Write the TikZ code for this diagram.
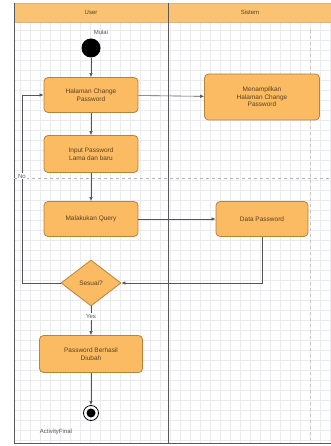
\documentclass[tikz,border=0pt]{standalone}
\usepackage{fontspec}
\setmainfont{Liberation Sans}
\usetikzlibrary{shapes.geometric,arrows.meta}
\definecolor{boxfill}{HTML}{FBBB63}
\definecolor{boxline}{HTML}{B9823A}
\definecolor{hdrfill}{HTML}{FBC272}
\definecolor{gridc}{HTML}{E9EBEE}
\definecolor{linec}{HTML}{555555}
\definecolor{txtc}{HTML}{5A4020}
\begin{document}
\begin{tikzpicture}[x=1pt,y=-1pt,
  act/.style={draw=boxline,fill=boxfill,rounded corners=4pt,line width=0.8pt,
    minimum width=#1,align=center,font=\fontsize{6.5}{7.5}\selectfont,text=txtc,inner sep=2pt},
  act/.default=94pt,
  dec/.style={draw=boxline,fill=boxfill,diamond,aspect=1.3,line width=0.8pt,
    minimum width=60pt,minimum height=46pt,inner sep=0pt,font=\fontsize{6.5}{7.5}\selectfont,text=txtc},
  flow/.style={draw=linec,line width=0.6pt,-{Latex[length=4pt,width=3.5pt]}},
  lbl/.style={font=\fontsize{6}{7}\selectfont,text=linec,inner sep=1pt}]
\useasboundingbox (0,0) rectangle (331,446);
\fill[white] (0,0) rectangle (331,446);
% grid
\foreach \gx in {20,30,...,330} {\draw[gridc,line width=0.3pt] (\gx,22) -- (\gx,443);}
\foreach \gy in {30,40,...,440} {\draw[gridc,line width=0.3pt] (14,\gy) -- (331,\gy);}
% header
\draw[boxline!60,fill=hdrfill] (14,3) rectangle (331,22);
\node[lbl,text=txtc] (huser) at (91,12.5) {User};
\node[lbl,text=txtc] (hsis) at (250,12.5) {Sistem};
% frame
\draw[gray!70!black,line width=0.6pt] (14,3) -- (14,443) -- (331,443);
\draw[gray!70!black,line width=0.6pt] (168,3) -- (168,443);
\draw[gray!60,dashed,line width=0.5pt] (14,178) -- (331,178);
\draw[gray!45,dashed,line width=0.4pt] (310,30) -- (310,440);
% nodes
\node[lbl] (mulai) at (101,32) {Mulai};
\node[circle,fill=black,minimum size=19pt,inner sep=0pt] (start) at (91,48) {};
\node[act,minimum height=35pt] (hal) at (91,95) {Halaman Change\\Password};
\node[act=115pt,minimum height=46pt] (tamp) at (262,97) {Menampilkan\\Halaman Change\\Password};
\node[act,minimum height=37pt] (inp) at (91,154) {Input Password\\Lama dan baru};
\node[act,minimum height=35pt] (query) at (91,219) {Malakukan Query};
\node[act=92pt,minimum height=35pt] (data) at (262,219) {Data Password};
\node[dec] (ses) at (91,283) {Sesuai?};
\node[act=103pt,minimum height=37pt] (ok) at (91,354) {Password Berhasil\\Diubah};
\node[circle,draw=black,line width=0.8pt,minimum size=15pt,inner sep=0pt] (end) at (91,413) {};
\node[circle,fill=black,minimum size=9pt,inner sep=0pt] (endin) at (end) {};
\node[lbl] (final) at (56,432) {ActivityFinal};
\coordinate (nocorner) at (22,283);
\coordinate (nocorner2) at (22,95);
\coordinate (datacorner) at (262,283);
% connectors
\draw[flow] (start) -- (hal);
\draw[flow] (hal) -- (tamp);
\draw[flow] (hal) -- (inp);
\draw[flow] (inp) -- (query);
\draw[flow] (query) -- (data);
\draw[flow] (data) -- (datacorner) -- (ses.east);
\draw[flow] (ses.west) -- (nocorner) -- (nocorner2) -- (hal.west);
\node[lbl,fill=white] (nolbl) at (22,176) {No};
\draw[flow] (ses) -- node[lbl,pos=0.35,fill=white] (yes) {Yes} (ok);
\draw[flow] (ok) -- (end);
\end{tikzpicture}
\end{document}
